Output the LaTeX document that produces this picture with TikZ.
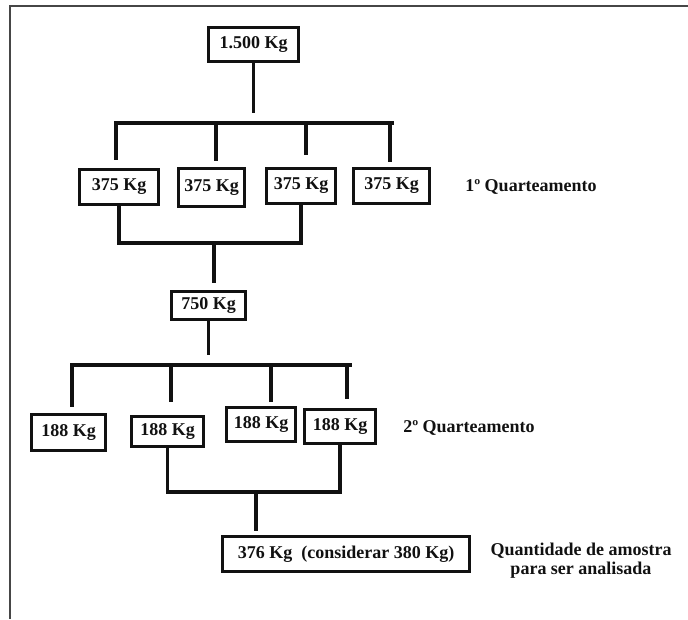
\documentclass[tikz,border=0pt]{standalone}
\usepackage{fontspec}
\setmainfont{Liberation Serif}
\usetikzlibrary{calc}
\definecolor{InkBlack}{RGB}{17,17,17}
\definecolor{FrameGray}{RGB}{70,70,70}

\begin{document}
\begin{tikzpicture}[
    x=1pt, y=-1pt,
    massbox/.style={draw=InkBlack, line width=3pt, inner sep=0pt, text=InkBlack,
                    font=\bfseries\fontsize{18}{20}\selectfont},
    note/.style={text=InkBlack, align=center, font=\bfseries\fontsize{18}{19}\selectfont},
    link/.style={InkBlack, line width=3.5pt},
    bar/.style={link, line cap=rect}
  ]
  \useasboundingbox (0,0) rectangle (688,619);
  \draw[FrameGray, line width=1.5pt] (688,6) -- (10,6) -- (10,619);

  \node[massbox, minimum width=90pt, minimum height=34pt] (total) at (253.5,44.5) {1.500 Kg};

  \node[massbox, minimum width=79pt, minimum height=35pt] (q1) at (119,187)   {375 Kg};
  \node[massbox, minimum width=66pt, minimum height=38pt] (q2) at (211.5,187.5) {375 Kg};
  \node[massbox, minimum width=69pt, minimum height=35pt] (q3) at (301,186)   {375 Kg};
  \node[massbox, minimum width=76pt, minimum height=35pt] (q4) at (391.5,186) {375 Kg};
  \node[note] (quart1) at (531,187) {1º Quarteamento};

  \node[massbox, minimum width=74pt, minimum height=28pt] (half) at (208.5,305.5) {750 Kg};

  \node[massbox, minimum width=74pt, minimum height=36pt] (r1) at (68.5,432.5)  {188 Kg};
  \node[massbox, minimum width=72pt, minimum height=30pt] (r2) at (167.5,431.5) {188 Kg};
  \node[massbox, minimum width=69pt, minimum height=34pt] (r3) at (261,424.5)   {188 Kg};
  \node[massbox, minimum width=71pt, minimum height=34pt] (r4) at (340,426.5)   {188 Kg};
  \node[note] (quart2) at (469,428) {2º Quarteamento};

  \node[massbox, minimum width=247pt, minimum height=35pt] (sample) at (346,554)
      {376 Kg\ \ (considerar 380 Kg)};
  \node[note] (amostra) at (581,561) {Quantidade de amostra\\para ser analisada};

  % first quartering
  \coordinate (bar1w) at (116,123);
  \coordinate (bar1e) at (392,123);
  \draw[bar] (bar1w) -- (bar1e);
  \draw[link, shorten >=10pt] (total.south) -- (total.south |- bar1w);
  \foreach \n/\dx/\gap in {q1/-3/8, q2/4.5/6, q3/5/12, q4/-1.5/5}
    \draw[link] ($(\n.north |- bar1w)+(\dx,0)$) -- ($(\n.north)+(\dx,-\gap)$);

  \coordinate (join1) at (214,243);
  \draw[link] (q1.south) |- (join1) -| (q3.south);
  \draw[link, shorten >=7pt] (join1) -- (join1 |- half.north);

  % second quartering
  \coordinate (bar2w) at (72,365);
  \coordinate (bar2e) at (350,365);
  \draw[bar] (bar2w) -- (bar2e);
  \draw[link, shorten >=10pt] (half.south) -- (half.south |- bar2w);
  \foreach \n/\dx/\gap in {r1/3.5/6, r2/3.5/13, r3/10/4, r4/7/9}
    \draw[link] ($(\n.north |- bar2w)+(\dx,0)$) -- ($(\n.north)+(\dx,-\gap)$);

  \coordinate (join2) at (256,492);
  \draw[link] (r2.south) |- (join2) -| (r4.south);
  \draw[link, shorten >=4pt] (join2) -- (join2 |- sample.north);
\end{tikzpicture}
\end{document}
